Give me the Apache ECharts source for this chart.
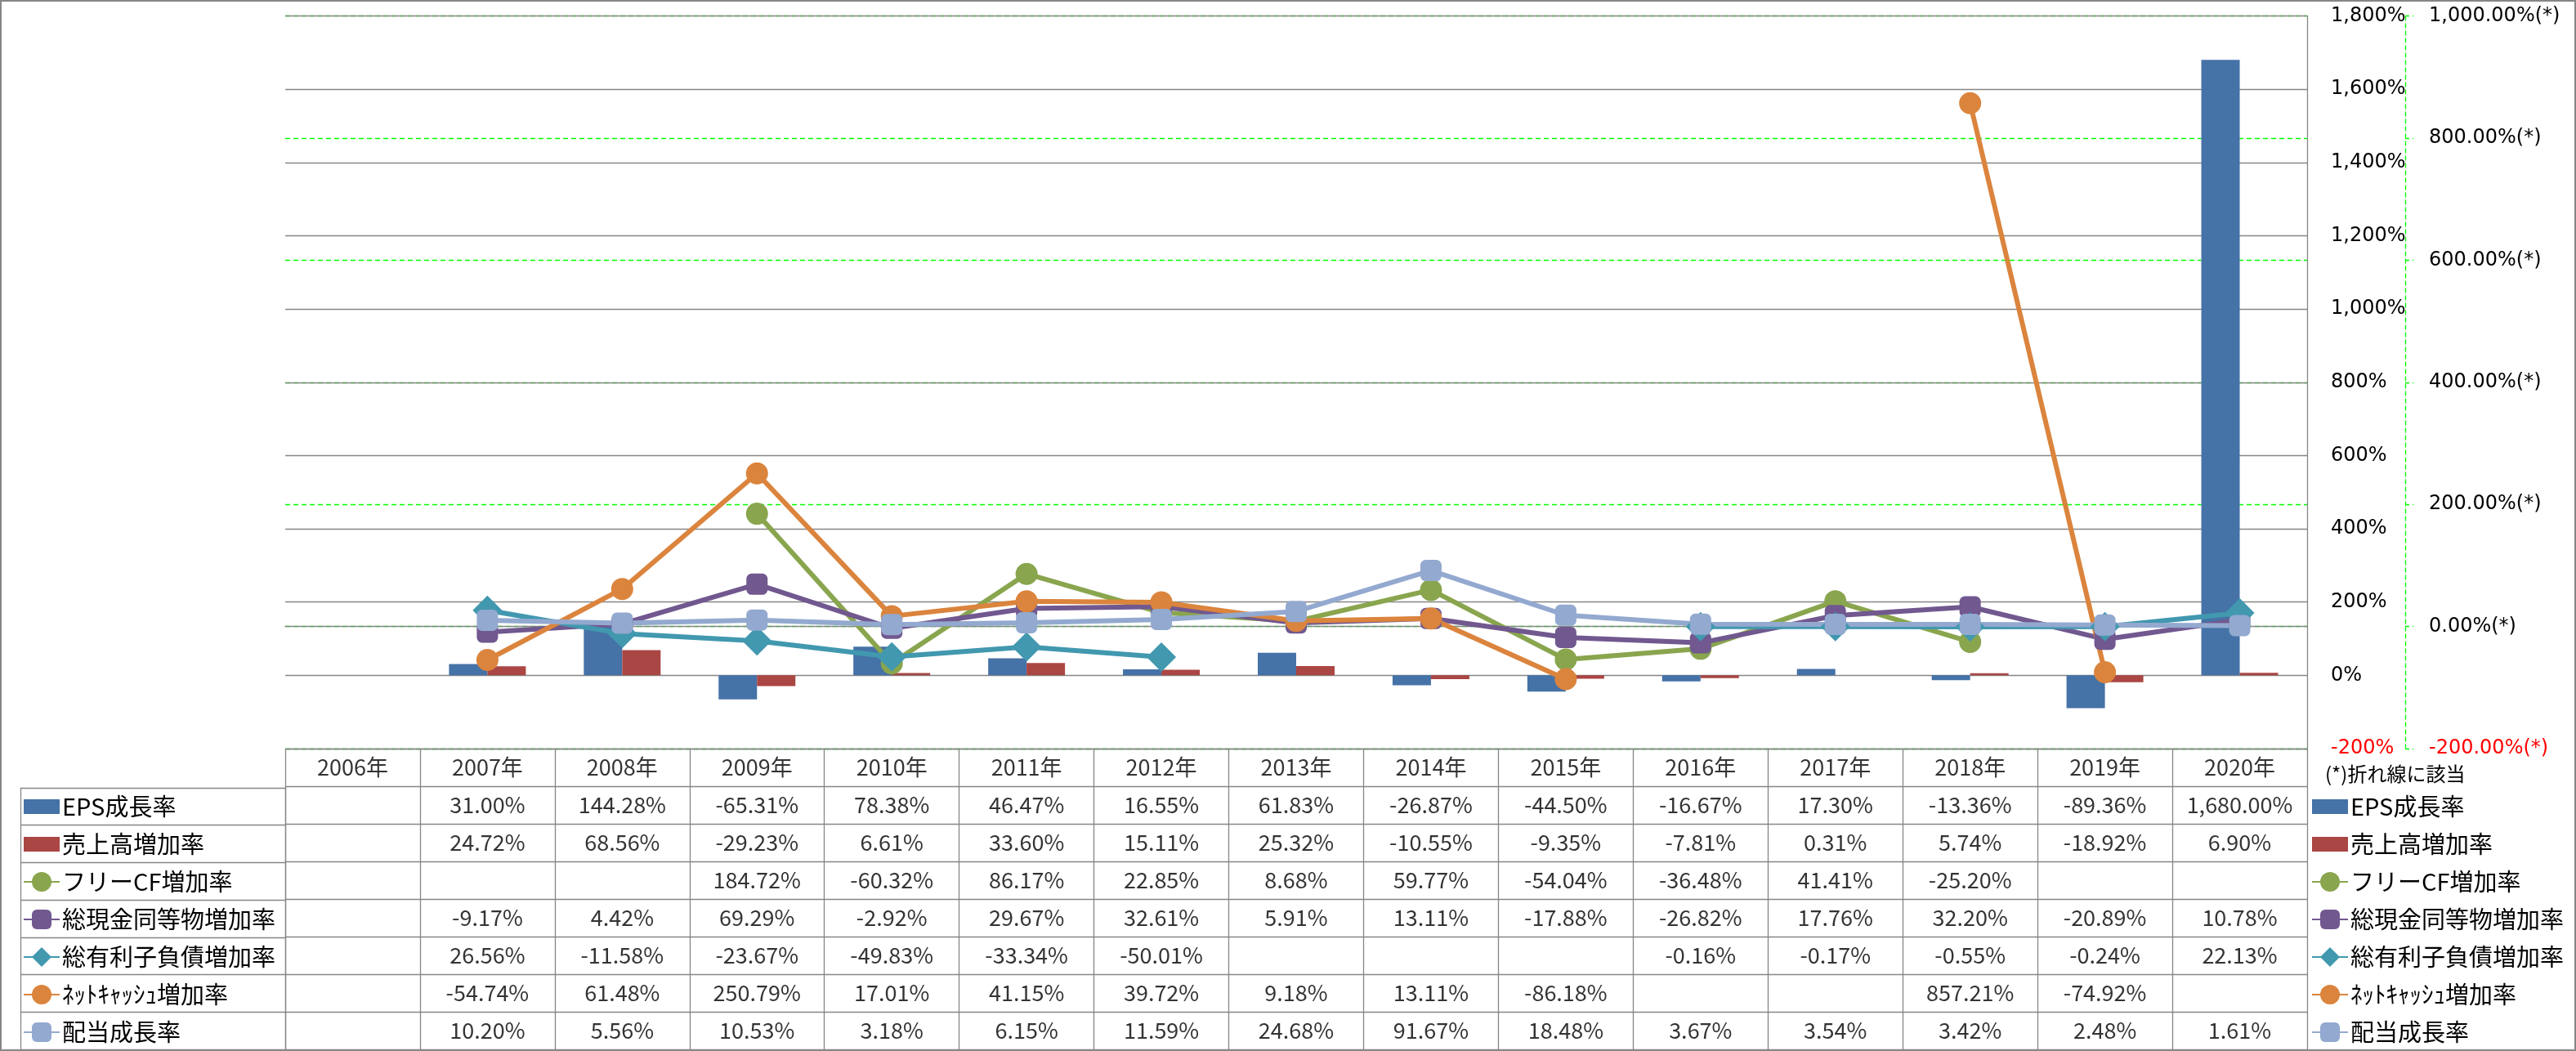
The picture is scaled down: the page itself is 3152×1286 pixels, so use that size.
<!DOCTYPE html>
<html>
<head>
<meta charset="utf-8">
<script src="https://cdn.jsdelivr.net/npm/echarts@6/dist/echarts.min.js"></script>
<style>
html,body{margin:0;padding:0;background:#fff;}
#wrap{position:relative;width:3152px;height:1286px;}
#chart{position:absolute;left:0;top:0;width:3152px;height:1286px;}
#frame{position:absolute;left:0;top:0;width:3152px;height:1286px;box-sizing:border-box;border:2px solid #868686;pointer-events:none;}
</style>
</head>
<body>
<div id="wrap"><div id="chart"></div><div id="frame"></div></div>
<script>
// ---- data ----
const years = ['2006年','2007年','2008年','2009年','2010年','2011年','2012年','2013年','2014年','2015年','2016年','2017年','2018年','2019年','2020年'];
const seriesNames = ['EPS成長率','売上高増加率','フリーCF増加率','総現金同等物増加率','総有利子負債増加率','ﾈｯﾄｷｬｯｼｭ増加率','配当成長率'];
const eps      = [null, 31.00, 144.28, -65.31, 78.38, 46.47, 16.55, 61.83, -26.87, -44.50, -16.67, 17.30, -13.36, -89.36, 1680.00];
const sales    = [null, 24.72, 68.56, -29.23, 6.61, 33.60, 15.11, 25.32, -10.55, -9.35, -7.81, 0.31, 5.74, -18.92, 6.90];
const fcf      = [null, null, null, 184.72, -60.32, 86.17, 22.85, 8.68, 59.77, -54.04, -36.48, 41.41, -25.20, null, null];
const cash     = [null, -9.17, 4.42, 69.29, -2.92, 29.67, 32.61, 5.91, 13.11, -17.88, -26.82, 17.76, 32.20, -20.89, 10.78];
const debt     = [null, 26.56, -11.58, -23.67, -49.83, -33.34, -50.01, null, null, null, -0.16, -0.17, -0.55, -0.24, 22.13];
const netcash  = [null, -54.74, 61.48, 250.79, 17.01, 41.15, 39.72, 9.18, 13.11, -86.18, null, null, 857.21, -74.92, null];
const dividend = [null, 10.20, 5.56, 10.53, 3.18, 6.15, 11.59, 24.68, 91.67, 18.48, 3.67, 3.54, 3.42, 2.48, 1.61];
const primaryAxis = {min: -200, max: 1800, interval: 200};
const secondaryAxis = {min: -200, max: 1000, interval: 200};
const note = '(*)折れ線に該当';

// ---- styles ----
const colors = ['#4572A7','#AA4643','#89A54E','#71588F','#4198AF','#DB843D','#93A9CF'];
const symbols = [null, null, 'circle', 'roundRect', 'diamond', 'circle', 'roundRect'];
const symbolSizes = [0, 0, 27, 26, 36, 27, 26];
const allValues = [eps, sales, fcf, cash, debt, netcash, dividend];
const gray = '#868686';
const green = '#00FF00';
const jp = '"Noto Sans CJK JP", "Noto Sans", sans-serif';

function fmt(v){
  return v.toLocaleString('en-US',{minimumFractionDigits:2, maximumFractionDigits:2}) + '%';
}

// table cells
const tableCells = [];
years.forEach((y,i)=>tableCells.push([i, 0, y]));
allValues.forEach((arr, r)=>{
  arr.forEach((v,i)=>{ if(v!==null) tableCells.push([i, r+1, fmt(v)]); });
});
const tableRows = ['h'].concat(seriesNames);

// yAxis index: 0 = secondary (lines), 1 = primary (bars), drawn after so its grid lines sit on top
const series = [];
allValues.forEach((arr, k)=>{
  if (k < 2) {
    series.push({
      name: seriesNames[k], type: 'bar', xAxisIndex: 0, yAxisIndex: 1,
      data: arr, barWidth: 47, barGap: '0%',
      itemStyle: {color: colors[k]}, silent: true
    });
  } else {
    series.push({
      name: seriesNames[k], type: 'line', xAxisIndex: 0, yAxisIndex: 0,
      data: arr, symbol: symbols[k], symbolSize: symbolSizes[k],
      showAllSymbol: true, connectNulls: false,
      lineStyle: {color: colors[k], width: 6},
      itemStyle: {color: colors[k]}, silent: true
    });
  }
});
series.push({
  type: 'scatter', xAxisIndex: 1, yAxisIndex: 2,
  dimensions: ['x','y','t'],
  encode: {x: 0, y: 1},
  data: tableCells, symbolSize: 1,
  itemStyle: {color: 'rgba(0,0,0,0)'},
  label: {show: true, position: 'inside', formatter: p => p.value[2],
          color: '#000', fontFamily: jp, fontSize: 27},
  silent: true
});

const legendData = seriesNames.map((n,k)=> k<2 ? {name:n, icon:'path://M0,0H39V16H0Z'} : {name:n});
function makeLegend(left){
  return {
    orient: 'vertical', left: left, top: 972, padding: 0,
    itemWidth: 44, itemHeight: 30, itemGap: 16, selectedMode: false,
    symbolKeepAspect: true,
    data: legendData,
    textStyle: {fontFamily: jp, fontSize: 29, lineHeight: 30, color: '#000', padding: [0,0,0,-2]}
  };
}

const option = {
  backgroundColor: '#fff',
  animation: false,
  title: {text: note, left: 2845, top: 935, padding: 0,
          textStyle: {fontFamily: jp, fontSize: 24, fontWeight: 'normal', color: '#000'}},
  legend: [makeLegend(28), makeLegend(2828)],
  grid: [
    {left: 349, top: 19.5, width: 2474, height: 896.5},
    {left: 349, top: 916, width: 2474, height: 368},
    {left: 25, top: 964, width: 324, height: 320}
  ],
  xAxis: [
    {type: 'category', gridIndex: 0, data: years, boundaryGap: true, z: 1,
     axisLine: {show: true, lineStyle: {color: gray, width: 1.3}},
     axisTick: {show: false}, axisLabel: {show: false}, splitLine: {show: false}},
    {type: 'category', gridIndex: 1, data: years, boundaryGap: true,
     axisLine: {show: false}, axisTick: {show: false}, axisLabel: {show: false},
     splitLine: {show: true, lineStyle: {color: gray, width: 1.3}}},
    {type: 'category', gridIndex: 2, data: ['l'], boundaryGap: true,
     axisLine: {show: false}, axisTick: {show: false}, axisLabel: {show: false},
     splitLine: {show: true, lineStyle: {color: gray, width: 1.3}}}
  ],
  yAxis: [
    {type: 'value', gridIndex: 0, position: 'right', offset: 120, z: 0,
     min: secondaryAxis.min, max: secondaryAxis.max, interval: secondaryAxis.interval,
     axisLine: {show: true, lineStyle: {color: green, width: 1.3, type: [5,4]}},
     axisTick: {show: true, length: 10, lineStyle: {color: green, width: 1.3, type: [5,4]}},
     splitLine: {show: true, lineStyle: {color: green, width: 1.3, type: [6,4]}},
     axisLabel: {margin: 29, fontFamily: '"DejaVu Sans", sans-serif', fontSize: 24,
       formatter: v => fmt(v) + '(*)',
       color: v => (Number(v) === secondaryAxis.min ? '#FF0000' : '#000')}},
    {type: 'value', gridIndex: 0, position: 'right', z: 1,
     min: primaryAxis.min, max: primaryAxis.max, interval: primaryAxis.interval,
     axisLine: {show: true, lineStyle: {color: gray, width: 1.3}},
     axisTick: {show: false},
     splitLine: {show: true, lineStyle: {color: gray, width: 1.3}},
     axisLabel: {margin: 29, fontFamily: '"DejaVu Sans", sans-serif', fontSize: 24,
       formatter: v => v.toLocaleString('en-US') + '%',
       color: v => (Number(v) === primaryAxis.min ? '#FF0000' : '#000')}},
    {type: 'category', gridIndex: 1, data: tableRows, inverse: true, boundaryGap: true,
     axisLine: {show: false}, axisTick: {show: false}, axisLabel: {show: false},
     splitLine: {show: true, lineStyle: {color: gray, width: 1.3}}},
    {type: 'category', gridIndex: 2, data: seriesNames, inverse: true, boundaryGap: true,
     axisLine: {show: false}, axisTick: {show: false}, axisLabel: {show: false},
     splitLine: {show: true, lineStyle: {color: gray, width: 1.3}}}
  ],
  series: series
};

const chart = echarts.init(document.getElementById('chart'), null, {renderer: 'canvas'});
chart.setOption(option);
</script>
</body>
</html>
